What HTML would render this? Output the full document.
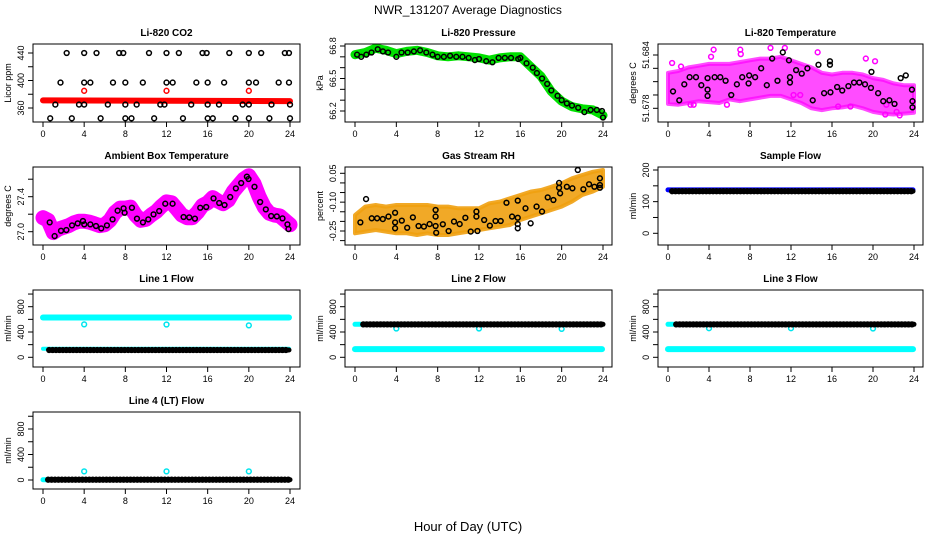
<!DOCTYPE html>
<html><head><meta charset="utf-8"><style>
html,body{margin:0;padding:0;background:#fff;}
svg{display:block;font-family:"Liberation Sans",Arial,sans-serif;}
</style></head><body>
<svg id="chart" width="936" height="540" viewBox="0 0 936 540" xmlns="http://www.w3.org/2000/svg">
<rect x="0" y="0" width="936" height="540" fill="#fff"/>
<text x="468" y="14" text-anchor="middle" font-size="12">NWR_131207  Average Diagnostics</text>
<text x="468" y="531" text-anchor="middle" font-size="13">Hour of Day (UTC)</text>
</svg>
<script>
// ---------- data ----------
const xTicks = [0,4,8,12,16,20,24];
// Li-820 CO2
const co2BlackX = [2.3,4,5.2,7.4,7.8,10.3,12,13.2,15.5,15.9,18.1,20,21.2,23.5,23.9, 1.7,4,4.6,6.8,8,9.7,12,12.6,14.9,16,17.6,20,20.7,22.9,23.9, 1.2,3.5,4,6.3,8,9.1,11.4,11.8,14.4,16,17.1,19.4,20,22.2,24, 0.7,2.8,5.6,8,8.6,10.8,13.6,16,16.5,18.7,20,22,24];
const co2BlackY = [440,440,440,440,440,440,440,440,440,440,440,440,440,440,440, 397,397,397,397,397,397,397,397,397,397,397,397,397,397,397, 365,365,365,365,365,365,365,365,365,365,365,365,365,365,365, 345,345,345,345,345,345,345,345,345,345,345,345,345];
const co2RedX = [0,24];
const co2RedY = [371,370];
const co2RedOutX = [4,12,20];
const co2RedOutY = [385,385,385];
// Li-820 pressure
const presGreenX = [0,1,2,3,4,5,6,7,8,9,10,11,12,13,14,15,16,17,18,19,20,21,22,23,24];
const presGreenY = [66.72,66.74,66.78,66.76,66.73,66.75,66.76,66.74,66.71,66.70,66.71,66.70,66.69,66.67,66.69,66.70,66.70,66.61,66.52,66.38,66.29,66.24,66.22,66.21,66.16];
const presBlackX = [0.2,0.6,1.1,1.6,2.2,2.7,3.2,4,4.5,5.1,5.7,6.3,6.9,7.5,8,8.6,9.2,9.8,10.4,11,11.6,12,12.7,13.3,13.9,14.5,15.1,15.8,16,16.6,17.2,17.6,18.1,18.6,19,19.6,20,20.5,21,21.6,22.2,22.8,23.4,23.9,24];
const presBlackY = [66.72,66.70,66.72,66.74,66.77,66.75,66.74,66.70,66.74,66.74,66.75,66.76,66.74,66.72,66.70,66.70,66.71,66.70,66.70,66.69,66.67,66.68,66.66,66.65,66.69,66.69,66.69,66.68,66.69,66.64,66.60,66.55,66.50,66.45,66.39,66.34,66.30,66.27,66.25,66.23,66.19,66.21,66.21,66.20,66.14];
// Li-820 temperature
const litBandX = [0,1,2,3,4,5,6,7,8,9,10,11,12,13,14,15,16,17,18,19,20,21,22,23,24];
const litUpper = [51.6820,51.6822,51.6826,51.6828,51.6830,51.6830,51.6830,51.6832,51.6834,51.6836,51.6836,51.6838,51.6834,51.6830,51.6826,51.6820,51.6818,51.6820,51.6820,51.6818,51.6814,51.6812,51.6808,51.6806,51.6806];
const litLower = [51.6785,51.6784,51.6786,51.6788,51.6787,51.6786,51.6790,51.6788,51.6790,51.6792,51.6794,51.6794,51.6790,51.6786,51.6780,51.6778,51.6780,51.6781,51.6783,51.6780,51.6776,51.6774,51.6773,51.6774,51.6775];
const litMagX = [0.4,1.27,2.2,4.45,4.2,7.05,7.1,10.0,11.4,14.6,16.6,17.8,19.3,20.2,21.2,22.6,21.3,22.3,5.75,2.5,12.25,12.9];
const litMagY = [51.6831,51.6827,51.6784,51.6846,51.6838,51.6846,51.6841,51.6848,51.6848,51.6843,51.6782,51.6782,51.6836,51.6833,51.6773,51.6772,51.6784,51.6776,51.6784,51.6784,51.6795,51.6795];
const litBlackX = [0.49,1.1,1.59,2.11,2.73,3.25,3.86,3.86,3.86,4.55,5.1,5.62,6.17,6.72,7.24,7.86,7.92,8.5,9.09,9.64,10.16,10.68,11.2,11.8,11.9,11.9,12.5,13.05,13.6,14.12,14.68,15.23,15.8,15.8,15.85,16.5,17.0,17.6,18.15,18.67,19.22,19.8,19.85,20.5,21.0,21.6,22.1,22.7,23.2,23.8,23.85,23.85];
const litBlackY = [51.6799,51.6789,51.6807,51.6815,51.6815,51.6806,51.6814,51.6801,51.6794,51.6815,51.6815,51.6811,51.6795,51.6807,51.6815,51.6808,51.6817,51.6815,51.6825,51.6806,51.6836,51.6811,51.6843,51.6834,51.6815,51.6809,51.6823,51.6819,51.6825,51.6789,51.6829,51.6797,51.6833,51.6829,51.6798,51.6804,51.6800,51.6805,51.6809,51.6809,51.6807,51.6803,51.6821,51.6797,51.6788,51.6789,51.6785,51.6814,51.6817,51.6801,51.6788,51.6781];
// Ambient box temperature
const ambMagX = [0,0.5,1,1.5,2,2.5,3,3.5,4,4.5,5,5.5,6,6.5,7,7.5,8,8.5,9,9.5,10,10.5,11,11.5,12,12.5,13,13.5,14,14.5,15,15.5,16,16.5,17,17.5,18,18.5,19,19.5,20,20.5,21,21.5,22,22.5,23,23.5,24];
const ambMagY = [27.16,27.13,26.99,27.03,27.05,27.07,27.10,27.12,27.12,27.11,27.09,27.07,27.08,27.13,27.22,27.27,27.27,27.28,27.19,27.13,27.14,27.19,27.23,27.29,27.34,27.33,27.26,27.19,27.16,27.16,27.22,27.30,27.33,27.39,27.35,27.32,27.36,27.46,27.53,27.60,27.64,27.55,27.40,27.28,27.21,27.19,27.18,27.13,27.08];
const ambBlackX = [0.65,1.13,1.75,2.27,2.82,3.37,3.88,4.01,4.6,5.15,5.66,6.21,6.76,7.25,7.83,7.93,8.64,9.13,9.71,10.23,10.74,11.29,11.88,12.59,13.66,14.21,14.76,15.28,15.86,16.57,17.12,17.64,18.19,18.74,19.26,19.81,19.97,20.55,21.1,21.65,22.17,22.72,23.27,23.75,23.85];
const ambBlackY = [27.107,26.95,27.011,27.019,27.072,27.095,27.122,27.084,27.084,27.065,27.038,27.072,27.141,27.24,27.267,27.217,27.274,27.149,27.107,27.141,27.198,27.236,27.32,27.32,27.168,27.164,27.149,27.274,27.282,27.381,27.328,27.305,27.396,27.495,27.556,27.629,27.602,27.514,27.339,27.255,27.179,27.175,27.152,27.084,27.03];
// Gas stream RH
const rhBandX = [0,1,2,3,4,5,6,7,8,9,10,11,12,13,14,15,16,17,18,19,20,21,22,23,24];
const rhUpper = [-0.167,-0.123,-0.115,-0.123,-0.115,-0.115,-0.115,-0.115,-0.123,-0.123,-0.132,-0.132,-0.132,-0.106,-0.097,-0.080,-0.063,-0.045,-0.037,-0.020,-0.002,0.024,0.041,0.058,0.067];
const rhLower = [-0.262,-0.253,-0.245,-0.253,-0.262,-0.262,-0.271,-0.262,-0.271,-0.271,-0.262,-0.253,-0.245,-0.236,-0.227,-0.219,-0.193,-0.175,-0.158,-0.141,-0.123,-0.097,-0.063,-0.045,-0.020];
const rhBlackX = [1.07,0.52,1.62,2.14,2.69,3.24,3.88,3.88,3.88,4.53,5.05,5.6,6.15,6.67,7.22,7.8,7.8,7.8,7.86,8.5,9.06,9.58,10.13,10.68,11.2,11.75,11.75,11.85,12.5,13.05,13.6,14.1,14.66,15.2,15.75,15.75,15.75,15.75,16.5,17.0,17.57,18.1,18.65,19.2,19.75,19.75,19.85,20.5,21.04,21.56,22.1,22.65,23.17,23.7,23.7,23.7];
const rhBlackY = [-0.084,-0.205,-0.184,-0.184,-0.188,-0.175,-0.155,-0.205,-0.236,-0.196,-0.233,-0.179,-0.224,-0.227,-0.214,-0.224,-0.175,-0.141,-0.259,-0.215,-0.25,-0.201,-0.214,-0.181,-0.253,-0.175,-0.149,-0.25,-0.193,-0.222,-0.198,-0.198,-0.103,-0.175,-0.092,-0.181,-0.214,-0.236,-0.132,-0.21,-0.123,-0.149,-0.075,-0.089,0.0,-0.025,-0.054,-0.02,-0.028,0.067,-0.033,-0.007,-0.02,0.024,-0.011,-0.025];
// Flows (ml/min)
const sampleBlue = 137, sampleBlack = 133;
const line1CyanHigh = 630, line1CyanLow = 135, line1Black = 116;
const line1OutX = [4,12,20], line1OutY = [520,518,505];
const line2Black = 521, line2CyanLow = 130, line2CyanStart = 521;
const line2OutX = [4,12,20], line2OutY = [455,455,450];
const line3Black = 521, line3CyanLow = 130, line3CyanStart = 521;
const line3OutX = [4,12,20], line3OutY = [460,460,455];
const line4Black = 5, line4CyanStart = 5;
const line4OutX = [4,12,20], line4OutY = [135,135,135];

// ---------- drawing ----------
const svg = document.getElementById('chart');
const NS = 'http://www.w3.org/2000/svg';
const cols = [{L:33,R:300,x0:43,x24:290},{L:345,R:612,x0:355,x24:603},{L:658,R:923,x0:668,x24:914}];
const rowsTop = [44,167,290,412], rowsBot = [122,245,367,489];
function mk(tag, attrs, parent){const e=document.createElementNS(NS,tag);for(const k in attrs)e.setAttribute(k,attrs[k]);(parent||svg).appendChild(e);return e;}

function panel(opt){
  const c = cols[opt.col], top = rowsTop[opt.row], bot = rowsBot[opt.row];
  const g = mk('g',{});
  
  
  const sx = v => c.x0 + (c.x24 - c.x0) * v / 24;
  const k = (opt.ref[3] - opt.ref[1]) / (opt.ref[2] - opt.ref[0]);
  const sy = v => top + opt.ref[1] + (v - opt.ref[0]) * k;
  const cid = 'clip-' + opt.name;
  const cp = mk('clipPath',{id:cid}, g); mk('rect',{x:c.L,y:top,width:c.R-c.L,height:bot-top},cp);
  const plot = mk('g',{'clip-path':'url(#'+cid+')'}, g);
  
  
  opt.draw(plot, sx, sy);
  const fr = mk('rect',{x:c.L,y:top,width:c.R-c.L,height:bot-top,fill:'none',stroke:'#000','stroke-width':1}, g);
  
  
  const t = mk('text',{x:(c.L+c.R)/2,y:top-8,'text-anchor':'middle','font-size':10,'font-weight':'bold'}, g);
  t.textContent = opt.title;
  
  
  mk('line',{x1:sx(0),x2:sx(24),y1:bot,y2:bot,stroke:'#000'}, g);
  xTicks.forEach(v=>{
    mk('line',{x1:sx(v),x2:sx(v),y1:bot,y2:bot+5,stroke:'#000'}, g);
    const tl = mk('text',{x:sx(v),y:bot+15,'text-anchor':'middle','font-size':9}, g);
    tl.textContent = v;
    
    
  });
  const yt = opt.yticks;
  mk('line',{x1:c.L,x2:c.L,y1:sy(yt[0]),y2:sy(yt[yt.length-1]),stroke:'#000'}, g);
  yt.forEach(v=>{ mk('line',{x1:c.L-5,x2:c.L,y1:sy(v),y2:sy(v),stroke:'#000'}, g); });
  opt.ylabels.forEach((lab,i)=>{
    const y = sy(opt.ylabelVals[i]);
    const tl = mk('text',{x:c.L-9,y:y,'text-anchor':'middle','font-size':9,transform:'rotate(-90 '+(c.L-9)+' '+y+')'}, g);
    tl.textContent = lab;
    
    
  });
  const yl = mk('text',{x:c.L-22,y:(top+bot)/2,'text-anchor':'middle','font-size':9,transform:'rotate(-90 '+(c.L-22)+' '+((top+bot)/2)+')'}, g);
  yl.textContent = opt.ylab;
  
  
}

function pts(parent, xs, ys, sx, sy, color, name, r){
  for(let i=0;i<xs.length;i++){
    const e = mk('circle',{cx:sx(xs[i]),cy:sy(ys[i]),r:r||2.4,fill:'none',stroke:color,'stroke-width':1.5}, parent);
    
    
  }
}
function line(parent, xs, ys, sx, sy, color, w, name){
  const d = xs.map((x,i)=>(i?'L':'M')+sx(x).toFixed(1)+' '+sy(ys[i]).toFixed(1)).join(' ');
  const e = mk('path',{d:d,fill:'none',stroke:color,'stroke-width':w,'stroke-linejoin':'round','stroke-linecap':'round'}, parent);
  
  
}
function band(parent, xs, up, lo, sx, sy, color, op, name){
  let d = xs.map((x,i)=>(i?'L':'M')+sx(x).toFixed(1)+' '+sy(up[i]).toFixed(1)).join(' ');
  for(let i=xs.length-1;i>=0;i--) d += ' L'+sx(xs[i]).toFixed(1)+' '+sy(lo[i]).toFixed(1);
  const e = mk('path',{d:d+' Z',fill:color,'fill-opacity':op,stroke:color,'stroke-width':4,'stroke-opacity':op,'stroke-linejoin':'round'}, parent);
  
  
}
function row(parent, x1, x2, level, sx, sy, color, name){
  const xs=[]; for(let x=x1;x<=x2+1e-9;x+=1/3) xs.push(x);
  line(parent,[x1,x2],[level,level],sx,sy,color,5,name+'-band');
  pts(parent, xs, xs.map(()=>level), sx, sy, color, name, 2.4);
}

panel({name:'co2-panel',col:0,row:0,title:'Li-820 CO2',ylab:'Licor ppm',ref:[440,9,360,64],
  yticks:[360,380,400,420,440],ylabels:['360','400','440'],ylabelVals:[360,400,440],
  draw:(p,sx,sy)=>{ line(p,co2RedX,co2RedY,sx,sy,'#ff0000',6,'co2-red-series');
    pts(p,co2RedOutX,co2RedOutY,sx,sy,'#ff0000','co2-red-point');
    pts(p,co2BlackX,co2BlackY,sx,sy,'#000','co2-black-point'); }});
panel({name:'pressure-panel',col:1,row:0,title:'Li-820 Pressure',ylab:'kPa',ref:[66.8,2,66.2,67],
  yticks:[66.2,66.3,66.4,66.5,66.6,66.7,66.8],ylabels:['66.2','66.5','66.8'],ylabelVals:[66.2,66.5,66.8],
  draw:(p,sx,sy)=>{ line(p,presGreenX,presGreenY,sx,sy,'#00e000',9,'pressure-green-series');
    pts(p,presBlackX,presBlackY,sx,sy,'#000','pressure-black-point'); }});
panel({name:'licor-temp-panel',col:2,row:0,title:'Li-820 Temperature',ylab:'degrees C',ref:[51.684,11,51.678,64.3],
  yticks:[51.678,51.6795,51.681,51.6825,51.684],ylabels:['51.678','51.684'],ylabelVals:[51.678,51.684],
  draw:(p,sx,sy)=>{ band(p,litBandX,litUpper,litLower,sx,sy,'#ff00ff',0.7,'licor-temp-magenta-cloud');
    pts(p,litMagX,litMagY,sx,sy,'#ff00ff','licor-temp-magenta-point');
    pts(p,litBlackX,litBlackY,sx,sy,'#000','licor-temp-black-point'); }});
panel({name:'ambient-temp-panel',col:0,row:1,title:'Ambient Box Temperature',ylab:'degrees C',ref:[27.4,29.7,27.0,64.7],
  yticks:[27.0,27.2,27.4,27.6],ylabels:['27.0','27.4'],ylabelVals:[27.0,27.4],
  draw:(p,sx,sy)=>{ line(p,ambMagX,ambMagY,sx,sy,'#ff00ff',15,'ambient-magenta-series');
    pts(p,ambBlackX,ambBlackY,sx,sy,'#000','ambient-black-point'); }});
panel({name:'rh-panel',col:1,row:1,title:'Gas Stream RH',ylab:'percent',ref:[0.05,6.3,-0.25,64],
  yticks:[-0.3,-0.25,-0.2,-0.15,-0.1,-0.05,0,0.05],ylabels:['0.05','-0.10','-0.25'],ylabelVals:[0.05,-0.10,-0.25],
  draw:(p,sx,sy)=>{ band(p,rhBandX,rhUpper,rhLower,sx,sy,'#f0a010',0.9,'rh-orange-cloud');
    pts(p,rhBlackX,rhBlackY,sx,sy,'#000','rh-black-point'); }});
panel({name:'sample-flow-panel',col:2,row:1,title:'Sample Flow',ylab:'ml/min',ref:[200,3,0,66.3],
  yticks:[0,50,100,150,200],ylabels:['0','100','200'],ylabelVals:[0,100,200],
  draw:(p,sx,sy)=>{ line(p,[0,23.9],[sampleBlue,sampleBlue],sx,sy,'#0000ff',5,'sample-blue-series');
    row(p,0.4,23.9,sampleBlack,sx,sy,'#000','sample-black-point'); }});
const flowTicks=[0,200,400,600,800,1000];
panel({name:'line1-flow-panel',col:0,row:2,title:'Line 1 Flow',ylab:'ml/min',ref:[800,16.7,0,67.3],
  yticks:flowTicks,ylabels:['0','400','800'],ylabelVals:[0,400,800],
  draw:(p,sx,sy)=>{ line(p,[0,23.9],[line1CyanHigh,line1CyanHigh],sx,sy,'#00ffff',6,'line1-cyan-high');
    pts(p,line1OutX,line1OutY,sx,sy,'#00e5ee','line1-cyan-point');
    line(p,[0,23.9],[line1CyanLow,line1CyanLow],sx,sy,'#00ffff',4,'line1-cyan-low');
    row(p,0.6,23.9,line1Black,sx,sy,'#000','line1-black-point'); }});
panel({name:'line2-flow-panel',col:1,row:2,title:'Line 2 Flow',ylab:'ml/min',ref:[800,16.7,0,67.3],
  yticks:flowTicks,ylabels:['0','400','800'],ylabelVals:[0,400,800],
  draw:(p,sx,sy)=>{ line(p,[0,23.9],[line2CyanLow,line2CyanLow],sx,sy,'#00ffff',6,'line2-cyan-low');
    line(p,[0,0.5],[line2CyanStart,line2CyanStart],sx,sy,'#00ffff',5,'line2-cyan-start');
    pts(p,line2OutX,line2OutY,sx,sy,'#00e5ee','line2-cyan-point');
    row(p,0.8,24,line2Black,sx,sy,'#000','line2-black-point'); }});
panel({name:'line3-flow-panel',col:2,row:2,title:'Line 3 Flow',ylab:'ml/min',ref:[800,16.7,0,67.3],
  yticks:flowTicks,ylabels:['0','400','800'],ylabelVals:[0,400,800],
  draw:(p,sx,sy)=>{ line(p,[0,23.9],[line3CyanLow,line3CyanLow],sx,sy,'#00ffff',6,'line3-cyan-low');
    line(p,[0,0.5],[line3CyanStart,line3CyanStart],sx,sy,'#00ffff',5,'line3-cyan-start');
    pts(p,line3OutX,line3OutY,sx,sy,'#00e5ee','line3-cyan-point');
    row(p,0.8,24,line3Black,sx,sy,'#000','line3-black-point'); }});
panel({name:'line4-flow-panel',col:0,row:3,title:'Line 4 (LT) Flow',ylab:'ml/min',ref:[800,17,0,68],
  yticks:flowTicks,ylabels:['0','400','800'],ylabelVals:[0,400,800],
  draw:(p,sx,sy)=>{ line(p,[0,0.4],[line4CyanStart,line4CyanStart],sx,sy,'#00ffff',5,'line4-cyan-start');
    pts(p,line4OutX,line4OutY,sx,sy,'#00e5ee','line4-cyan-point');
    row(p,0.5,24,line4Black,sx,sy,'#000','line4-black-point'); }});
</script>
</body></html>
